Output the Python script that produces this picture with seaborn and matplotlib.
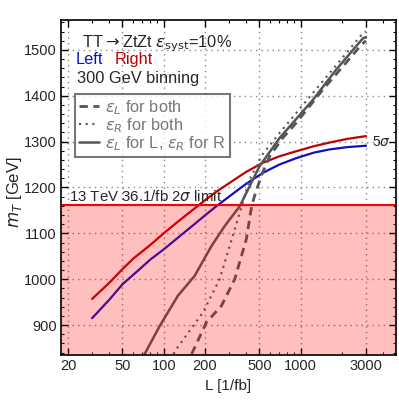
import numpy as np
import seaborn as sns
import matplotlib.pyplot as plt
from matplotlib.ticker import FixedLocator, NullFormatter, MultipleLocator, LogLocator

# Luminosity [1/fb] and m_T reach [GeV]
left_L = [30, 40, 50, 66.8, 80, 100, 130, 160, 200, 242, 303, 400, 531, 700, 930, 1250, 1630, 2200, 3000]
left_m = [915, 955, 989, 1022, 1043, 1065, 1093, 1115, 1139, 1159, 1181, 1208, 1232, 1250, 1264, 1276, 1283, 1288, 1291]

right_L = [30, 40, 50, 60, 80, 100, 130, 183, 240, 303, 400, 531, 700, 930, 1250, 1630, 2200, 3000]
right_m = [957, 992, 1022, 1045, 1075, 1100, 1128, 1163, 1190, 1210, 1234, 1254, 1268, 1279, 1290, 1298, 1306, 1312]

epsL_both_L = [160, 205, 264, 330, 401, 437, 460, 520, 594, 740, 930, 1450, 2780, 3000]
epsL_both_m = [837, 906, 942, 1000, 1087, 1156, 1181, 1228, 1268, 1308, 1341, 1413, 1511, 1520]

epsR_both_L = [118, 124, 194, 256, 303, 359, 424, 520, 703, 1229, 2846, 3000]
epsR_both_m = [837, 848, 928, 1000, 1072, 1145, 1217, 1270, 1319, 1406, 1536, 1540]

mixed_L = [72.6, 93.5, 127, 168, 223, 279, 359, 500, 703, 1229, 1819, 2846, 3000]
mixed_m = [837, 898, 964, 1007, 1072, 1116, 1159, 1246, 1308, 1391, 1457, 1525, 1528]

limit_2sigma = 1161
x_ticks = [20, 50, 100, 200, 500, 1000, 3000]
y_ticks = [900, 1000, 1100, 1200, 1300, 1400, 1500]

sns.set_style("ticks")
plt.rcParams["font.family"] = ["Liberation Sans", "DejaVu Sans"]
plt.rcParams["mathtext.fontset"] = "dejavusans"

fig = plt.figure(figsize=(3.99, 4.01), dpi=100)
fig.patch.set_facecolor("white")
ax = fig.add_axes([0.153, 0.115, 0.8395, 0.835])
ax.set_facecolor("white")

blue = "#1010c0"
red = "#c00000"
gray = "#555555"
sns.lineplot(x=left_L, y=left_m, color=blue, lw=1.6, errorbar=None, ax=ax)
sns.lineplot(x=right_L, y=right_m, color=red, lw=1.6, errorbar=None, ax=ax)
sns.lineplot(x=epsL_both_L, y=epsL_both_m, color=gray, lw=2, ls=(0, (3, 2)),
             errorbar=None, ax=ax, label=r"$\epsilon_L$ for both")
sns.lineplot(x=epsR_both_L, y=epsR_both_m, color=gray, lw=1.5, ls=(0, (1, 2.2)),
             errorbar=None, ax=ax, label=r"$\epsilon_R$ for both")
sns.lineplot(x=mixed_L, y=mixed_m, color=gray, lw=1.8, errorbar=None, ax=ax,
             label=r"$\epsilon_L$ for L, $\epsilon_R$ for R")

# excluded region
ax.axhspan(800, limit_2sigma, color="red", alpha=0.25, lw=0, zorder=5)
ax.axhline(limit_2sigma, color="red", lw=1.5, zorder=6)

ax.set_xscale("log")
ax.set_xlim(17.8, 4970)
ax.set_ylim(835, 1565)
ax.xaxis.set_major_locator(FixedLocator(x_ticks))
ax.set_xticklabels([str(t) for t in x_ticks])
ax.xaxis.set_minor_locator(LogLocator(base=10, subs=np.arange(2, 10)))
ax.xaxis.set_minor_formatter(NullFormatter())
ax.yaxis.set_major_locator(FixedLocator(y_ticks))
ax.yaxis.set_minor_locator(MultipleLocator(20))
ax.tick_params(which="both", direction="in", top=True, right=True, labelsize=10.5,
               color="black", pad=3)
ax.tick_params(which="major", length=5, width=1)
ax.tick_params(which="minor", length=2.5, width=0.8)
ax.grid(True, which="major", color="#888888", ls=(0, (1, 3)), lw=1)
for s in ax.spines.values():
    s.set_linewidth(1.2)
    s.set_color("black")
    s.set_zorder(7)

ax.set_xlabel("L [1/fb]", fontsize=11, labelpad=4)
ax.set_ylabel(r"$m_T$ [GeV]", fontsize=12)
ax.yaxis.set_label_coords(-0.112, 0.485)

txt = dict(transform=ax.transAxes, fontsize=11.8, va="center")
ax.text(0.062, 0.93, r"TT$\rightarrow$ZtZt $\epsilon_{\rm syst}$=10%", **txt)
ax.text(0.045, 0.881, "Left", color=blue, **txt)
ax.text(0.16, 0.881, "Right", color=red, **txt)
ax.text(0.048, 0.826, "300 GeV binning", **txt)
ax.text(3300, 1300, r"5$\sigma$", fontsize=10, va="center", ha="left")
ax.text(20.2, limit_2sigma + 2, r"13 TeV 36.1/fb 2$\sigma$ limit", fontsize=10.8,
        va="bottom", ha="left", zorder=8)

leg = ax.legend(loc="upper left", bbox_to_anchor=(0.042, 0.779), fontsize=11.8,
                frameon=True, fancybox=False, handlelength=1.2, handletextpad=0.4,
                borderpad=0.25, labelspacing=-0.05, borderaxespad=0)
leg.get_frame().set_edgecolor(gray)
leg.get_frame().set_linewidth(1.5)
for t in leg.get_texts():
    t.set_color("#777777")

fig.savefig("out.png", dpi=100, facecolor="white")
